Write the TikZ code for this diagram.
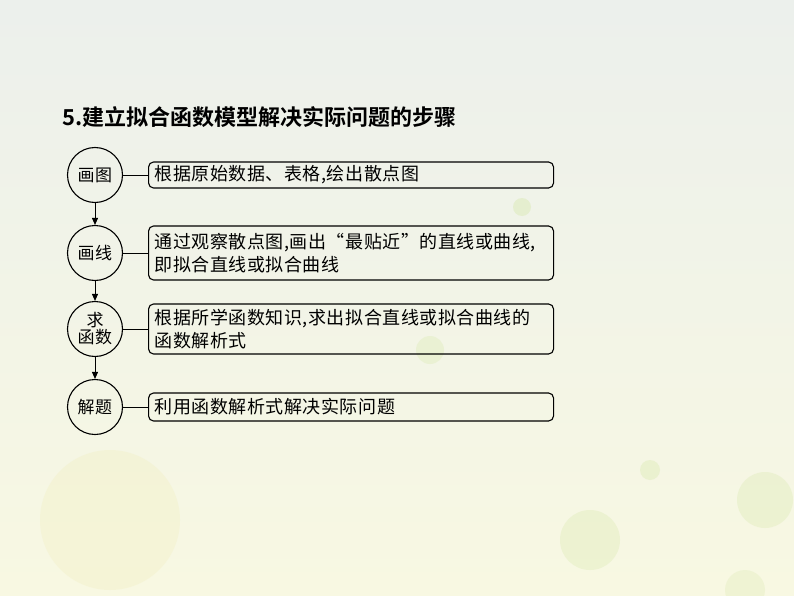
\documentclass[tikz,border=0pt]{standalone}
\usepackage{fontspec}
\setmainfont{Noto Sans CJK SC}[LetterSpace=3]
\newfontfamily\titlefont{Noto Sans CJK SC Bold}
\usetikzlibrary{positioning,arrows.meta}
\definecolor{bgtop}{RGB}{236, 240, 236}
\definecolor{bgbot}{RGB}{248, 248, 226}
\definecolor{blobgreen}{RGB}{214, 232, 170}
\definecolor{blobyellow}{RGB}{240, 236, 180}

\tikzset{
  stepcircle/.style={draw, circle, line width=1.1pt, minimum size=55pt, inner sep=0pt,
    align=center, font=\fontsize{17}{19}\selectfont},
  stepbox/.style={draw, rectangle, rounded corners=5pt, line width=1.1pt, anchor=west,
    minimum width=405pt, text width=393pt, inner xsep=6pt, inner ysep=3pt, align=left,
    font=\fontsize{18}{23}\selectfont},
  downarrow/.style={-{Triangle[length=7pt,width=6pt]}, line width=0.9pt},
  link/.style={line width=0.9pt}
}

\begin{document}
\begin{tikzpicture}[x=1pt, y=-1pt]
  % Background
  \shade[top color=bgtop, bottom color=bgbot] (0,0) rectangle (794,596);
  \useasboundingbox (0,0) rectangle (794,596);
  \foreach \cx/\cy/\r/\op in {522/207/9/0.4, 765/500/28/0.3, 590/540/30/0.3, 745/590/20/0.25, 430/350/14/0.3, 650/470/10/0.35} {
    \fill[blobgreen, opacity=\op] (\cx,\cy) circle (\r);
  }
  \fill[blobyellow, opacity=0.25] (110,520) circle (70);

  % Title
  \node[anchor=west, font=\titlefont\fontsize{22}{24}\selectfont] (title) at (59,117) {5.建立拟合函数模型解决实际问题的步骤};

  % Steps
  \node[stepcircle] (draw) at (95,175) {画图};
  \node[stepcircle] (line) at (95,253) {画线};
  \node[stepcircle] (func) at (95,329) {求\\[-2pt]函数};
  \node[stepcircle] (solve) at (95,407) {解题};

  % Descriptions
  \node[stepbox, minimum height=26pt] (drawtext) at (148,175) {根据原始数据、表格,绘出散点图};
  \node[stepbox, minimum height=54pt] (linetext) at (148,253) {通过观察散点图,画出“最贴近”的直线或曲线,\\即拟合直线或拟合曲线};
  \node[stepbox, minimum height=50pt] (functext) at (148,329) {根据所学函数知识,求出拟合直线或拟合曲线的\\函数解析式};
  \node[stepbox, minimum height=28pt] (solvetext) at (148,407) {利用函数解析式解决实际问题};

  % Connectors
  \foreach \a/\b in {draw/drawtext, line/linetext, func/functext, solve/solvetext} {
    \draw[link] (\a.east) -- (\b.west);
  }
  \draw[downarrow] (draw) -- (line);
  \draw[downarrow] (line) -- (func);
  \draw[downarrow] (func) -- (solve);
\end{tikzpicture}
\end{document}
